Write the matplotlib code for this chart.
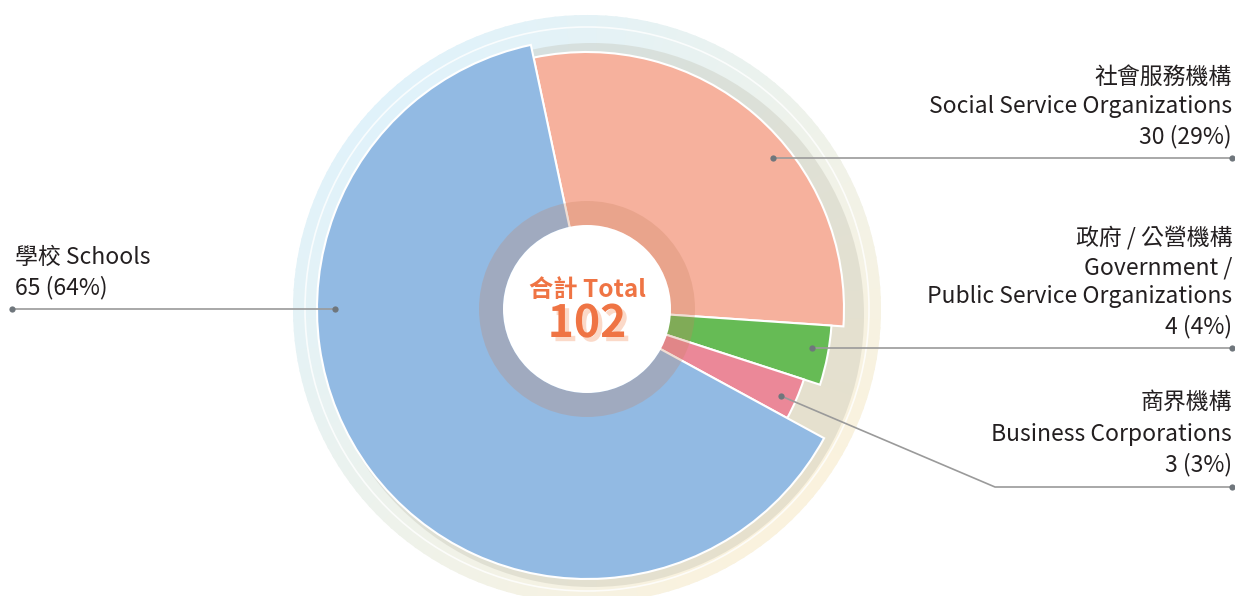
import numpy as np
import matplotlib.pyplot as plt
import matplotlib.patheffects as pe
from matplotlib.patches import Wedge, Circle

# data
names_zh = ['社會服務機構', '政府 / 公營機構', '商界機構', '學校']
names_en = [['Social Service Organizations'], ['Government /', 'Public Service Organizations'],
            ['Business Corporations'], ['Schools']]
counts = [30, 4, 3, 65]
total = sum(counts)
colors = ['#f6b19d', '#66bb55', '#eb8898', '#92bae3']
radii = [257, 245, 228, 270]

W, H = 1235, 596
def Y(y):
    return H - y

plt.rcParams['font.family'] = ['Noto Sans CJK TC', 'DejaVu Sans']

fig = plt.figure(figsize=(12.35, 5.96), dpi=100)
ax = fig.add_axes([0, 0, 1, 1])
cx, cy = 587, Y(309)

# halo behind the pie, light blue top-left to beige bottom-right
c1 = np.array([0.88, 0.95, 0.98])
c2 = np.array([0.98, 0.95, 0.87])
for a in range(0, 360, 2):
    t = (1 - np.cos(np.radians(a + 1 - 135))) / 2
    ax.add_patch(Wedge((cx, cy), 294, a, a + 2.5, color=c1 * (1 - t) + c2 * t, lw=0, zorder=0))
ax.add_patch(Circle((cx, cy), 282, fill=False, ec='white', lw=1.2, alpha=0.8, zorder=0.5))
ax.add_patch(Circle((cx + 5, cy - 6), 272, color='#b9b8a8', alpha=0.3, lw=0, zorder=0.6))

wedges, _ = ax.pie(counts, colors=colors, startangle=102, counterclock=False,
                   center=(cx, cy), radius=270, frame=True,
                   wedgeprops=dict(edgecolor='white', linewidth=1.5))
for w, r in zip(wedges, radii):
    w.set_radius(r)
    w.set_zorder(1)

# inner ring and white centre
ax.add_patch(Wedge((cx, cy), 108, 0, 360, width=24, color='#c8825f', alpha=0.27, lw=0, zorder=2))
ax.add_patch(Circle((cx, cy), 84, color='white', lw=0, zorder=3))
ax.text(cx, Y(290), '合計 Total', ha='center', va='center', fontsize=17.5,
        fontweight='bold', color='#ef7444', zorder=4)
ax.text(cx, Y(324), str(total), ha='center', va='center', fontsize=32,
        fontweight='bold', color='#ef7444', zorder=4,
        path_effects=[pe.withSimplePatchShadow(offset=(3, -3), shadow_rgbFace='#fbd9c8', alpha=1)])

# labels
fs = 16.5
tc = '#231f20'
lc = '#9a9a9a'
dc = '#6f767c'

label_lines = []
for zh, en, n in zip(names_zh, names_en, counts):
    pct = round(n / total * 100)
    label_lines.append([zh] + en + ['%d (%d%%)' % (n, pct)])

# right side labels
right_y = [[77, 107, 137], [238, 268, 297, 327], [402, 435, 465]]
for lines, ys in zip(label_lines[:3], right_y):
    for s, y in zip(lines, ys):
        ax.text(1232, Y(y), s, ha='right', va='center', fontsize=fs, color=tc, zorder=5)

# left label (schools)
ax.text(15, Y(257), names_zh[3] + ' ' + names_en[3][0], ha='left', va='center',
        fontsize=fs, color=tc, zorder=5)
ax.text(15, Y(288), '%d (%d%%)' % (counts[3], round(counts[3] / total * 100)),
        ha='left', va='center', fontsize=fs, color=tc, zorder=5)

# leader lines
leaders = [
    [(773, 158), (1232, 158)],
    [(812, 348), (1232, 348)],
    [(781, 396), (995, 487), (1232, 487)],
    [(335, 309), (12, 309)],
]
for pts in leaders:
    xs = [p[0] for p in pts]
    ys = [Y(p[1]) for p in pts]
    ax.plot(xs, ys, color=lc, lw=1.2, zorder=5, solid_capstyle='round')
    ax.plot([xs[0], xs[-1]], [ys[0], ys[-1]], 'o', color=dc, ms=4.5, mec='none', zorder=6)

ax.set_xlim(0, W)
ax.set_ylim(0, H)
ax.set_aspect('equal')
ax.axis('off')
fig.savefig('out.png', dpi=100)
